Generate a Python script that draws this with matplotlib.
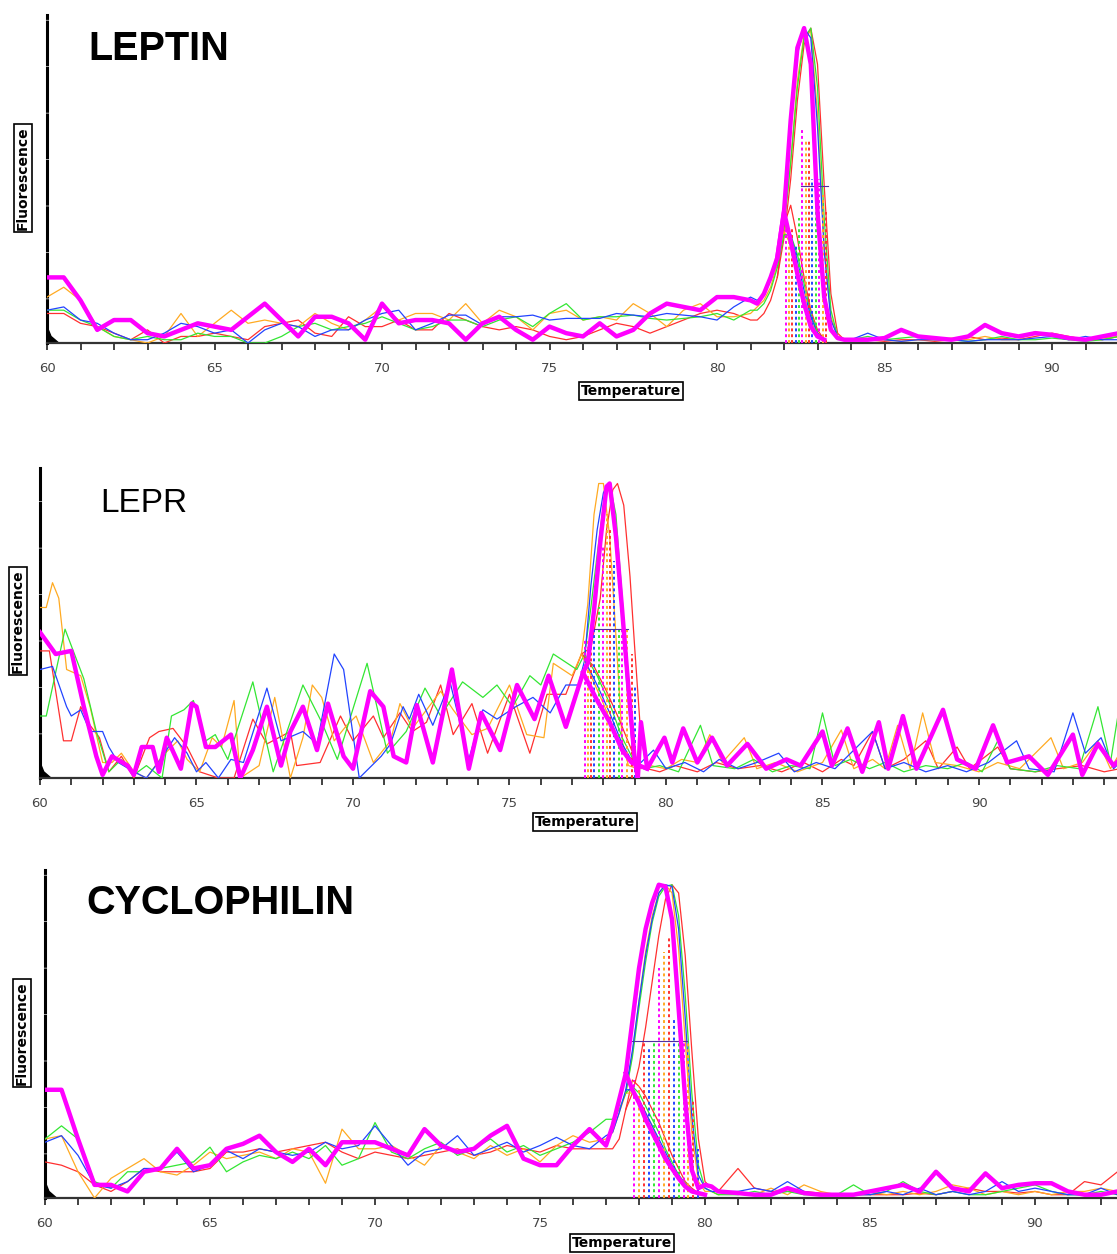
import numpy as np
import matplotlib
matplotlib.use("Agg")
import matplotlib.pyplot as plt

OUTPUT_FILE = "out.png"

RED = "#ff3030"
ORANGE = "#ffaa22"
GREEN = "#33e633"
BLUE = "#2244ff"
MAGENTA = "#ff00ff"

# ---------------- LEPTIN (shared temperature grid) ----------------
lep_temp = np.concatenate([np.arange(60.0, 81.01, 0.5),
                           np.arange(81.2, 84.01, 0.2),
                           np.arange(84.5, 92.01, 0.5)])

lep_red = [0.09, 0.09, 0.06, 0.05, 0.03, 0.01, 0.04, 0.00, 0.02, 0.02,
           0.03, 0.02, 0.01, 0.05, 0.06, 0.07, 0.03, 0.02, 0.08, 0.05,
           0.05, 0.07, 0.04, 0.04, 0.09, 0.07, 0.05, 0.04, 0.05, 0.04,
           0.02, 0.01, 0.02, 0.04, 0.06, 0.05, 0.03, 0.05, 0.07, 0.09,
           0.10, 0.09, 0.07,
           0.07, 0.09, 0.13, 0.20, 0.32, 0.50, 0.74, 0.91, 0.96, 0.85, 0.48, 0.15, 0.03, 0.01, 0.01,
           0.01, 0.005, 0.01, 0.01, 0.005, 0.01, 0.02, 0.01, 0.015, 0.01, 0.02, 0.03, 0.02, 0.01, 0.01, 0.02]
lep_orange = [0.14, 0.17, 0.13, 0.05, 0.02, 0.01, 0.00, 0.02, 0.09, 0.02,
              0.06, 0.10, 0.06, 0.07, 0.06, 0.05, 0.09, 0.06, 0.04, 0.07,
              0.11, 0.07, 0.09, 0.09, 0.07, 0.12, 0.06, 0.10, 0.08, 0.04,
              0.09, 0.10, 0.07, 0.08, 0.07, 0.12, 0.09, 0.05, 0.10, 0.12,
              0.08, 0.08, 0.09,
              0.11, 0.13, 0.17, 0.24, 0.36, 0.55, 0.80, 0.94, 0.95, 0.70, 0.30, 0.08, 0.02, 0.01, 0.01,
              0.01, 0.01, 0.005, 0.01, 0.01, 0.015, 0.01, 0.02, 0.01, 0.01, 0.035, 0.02, 0.02, 0.01, 0.015, 0.02]
lep_green = [0.10, 0.10, 0.07, 0.05, 0.02, 0.01, 0.02, 0.01, 0.01, 0.03,
             0.02, 0.02, 0.00, 0.00, 0.02, 0.05, 0.06, 0.04, 0.05, 0.06,
             0.08, 0.06, 0.04, 0.05, 0.07, 0.07, 0.05, 0.07, 0.08, 0.05,
             0.09, 0.12, 0.07, 0.08, 0.08, 0.085, 0.075, 0.07, 0.075, 0.08,
             0.09, 0.07, 0.10,
             0.10, 0.12, 0.16, 0.23, 0.35, 0.55, 0.78, 0.93, 0.96, 0.78, 0.38, 0.10, 0.02, 0.01, 0.01,
             0.02, 0.01, 0.015, 0.02, 0.01, 0.01, 0.005, 0.01, 0.02, 0.01, 0.01, 0.015, 0.01, 0.005, 0.01, 0.02]
lep_blue = [0.10, 0.11, 0.07, 0.06, 0.03, 0.01, 0.01, 0.03, 0.06, 0.05,
            0.03, 0.04, 0.00, 0.04, 0.06, 0.05, 0.02, 0.04, 0.04, 0.07,
            0.09, 0.10, 0.04, 0.06, 0.085, 0.085, 0.055, 0.08, 0.08, 0.085,
            0.07, 0.075, 0.075, 0.075, 0.09, 0.085, 0.08, 0.09, 0.085, 0.08,
            0.07, 0.11, 0.14,
            0.13, 0.15, 0.19, 0.27, 0.42, 0.66, 0.88, 0.96, 0.93, 0.66, 0.28, 0.07, 0.02, 0.01, 0.01,
            0.03, 0.01, 0.005, 0.01, 0.01, 0.01, 0.005, 0.01, 0.01, 0.01, 0.015, 0.02, 0.01, 0.02, 0.01, 0.01]
lep_magenta = [0.20, 0.20, 0.13, 0.04, 0.07, 0.07, 0.03, 0.02, 0.04, 0.06,
               0.05, 0.04, 0.08, 0.12, 0.07, 0.02, 0.08, 0.08, 0.06, 0.01,
               0.12, 0.06, 0.07, 0.07, 0.06, 0.01, 0.06, 0.08, 0.04, 0.01,
               0.05, 0.03, 0.02, 0.06, 0.02, 0.04, 0.09, 0.12, 0.11, 0.10,
               0.14, 0.14, 0.13,
               0.12, 0.15, 0.20, 0.26, 0.40, 0.68, 0.90, 0.96, 0.85, 0.40, 0.14, 0.04, 0.015, 0.01, 0.01,
               0.01, 0.015, 0.04, 0.02, 0.015, 0.01, 0.02, 0.055, 0.03, 0.02, 0.03, 0.025, 0.015, 0.01, 0.02, 0.03]

# falling "shoulder" traces
lep_sec_temp = [81.8, 82.0, 82.2, 82.4, 82.6, 82.8, 83.0, 83.2]
lep_sec_red = [0.20, 0.36, 0.42, 0.32, 0.20, 0.10, 0.04, 0.01]
lep_sec_orange = [0.24, 0.34, 0.30, 0.22, 0.14, 0.07, 0.02, 0.01]
lep_sec_green = [0.23, 0.33, 0.33, 0.27, 0.18, 0.09, 0.03, 0.01]
lep_sec_blue = [0.27, 0.37, 0.33, 0.25, 0.16, 0.08, 0.03, 0.01]
lep_sec_magenta = [0.26, 0.40, 0.31, 0.21, 0.12, 0.05, 0.02, 0.01]

lep_tm_x = [82.05, 82.15, 82.25, 82.35, 82.45, 82.55, 82.65, 82.75, 82.85, 82.95, 83.05, 83.15, 83.25]
lep_tm_top = [0.35, 0.33, 0.35, 0.30, 0.38, 0.65, 0.62, 0.62, 0.50, 0.48, 0.50, 0.45, 0.40]
lep_half = (0.48, 82.5, 83.3)

# ---------------- LEPR (vertex pairs per trace) ----------------
lepr_red = [(60.0, 0.41), (60.3, 0.41), (60.75, 0.12), (61.0, 0.12), (61.3, 0.23), (61.6, 0.17), (61.9, 0.13),
            (62.2, 0.02), (62.6, 0.07), (63.0, 0.0), (63.5, 0.13), (63.8, 0.15), (64.25, 0.16), (64.7, 0.10),
            (65.1, 0.02), (65.7, 0.0), (66.2, 0.0), (66.8, 0.19), (67.25, 0.11), (68.0, 0.15), (68.2, 0.04),
            (68.95, 0.05), (69.6, 0.20), (70.0, 0.12), (70.65, 0.20), (70.97, 0.13), (71.5, 0.21), (71.9, 0.15),
            (72.35, 0.18), (72.8, 0.30), (73.2, 0.14), (73.8, 0.24), (74.3, 0.08), (75.0, 0.27), (75.65, 0.08),
            (76.2, 0.27), (76.8, 0.27), (77.3, 0.40), (77.6, 0.42), (77.9, 0.58), (78.1, 0.80), (78.3, 0.93),
            (78.45, 0.95), (78.65, 0.88), (78.85, 0.65), (79.0, 0.42), (79.2, 0.13), (79.4, 0.03), (79.8, 0.02),
            (80.3, 0.04), (81.0, 0.02), (81.6, 0.05), (82.3, 0.03), (83.0, 0.04), (83.7, 0.02), (84.4, 0.05),
            (85.0, 0.02), (85.6, 0.06), (86.0, 0.04), (86.6, 0.15), (87.0, 0.03), (87.6, 0.06), (88.3, 0.12),
            (88.7, 0.03), (89.3, 0.10), (89.7, 0.03), (90.6, 0.10), (91.0, 0.03), (91.8, 0.02), (92.5, 0.03),
            (93.3, 0.04), (94.0, 0.02), (94.5, 0.03)]
lepr_orange = [(60.0, 0.55), (60.2, 0.55), (60.4, 0.63), (60.6, 0.58), (60.85, 0.35), (61.3, 0.33), (61.6, 0.23),
               (62.0, 0.05), (62.3, 0.05), (62.6, 0.08), (63.0, 0.02), (63.4, 0.0), (63.9, 0.07), (64.4, 0.12),
               (64.7, 0.06), (65.1, 0.02), (65.5, 0.13), (65.8, 0.10), (66.2, 0.25), (66.4, 0.0), (67.0, 0.04),
               (67.5, 0.26), (68.0, 0.0), (68.4, 0.13), (68.7, 0.30), (69.0, 0.26), (69.4, 0.12), (69.8, 0.17),
               (70.1, 0.20), (70.65, 0.05), (71.2, 0.12), (71.5, 0.24), (71.9, 0.16), (72.8, 0.28), (73.2, 0.22),
               (73.8, 0.14), (74.3, 0.16), (75.0, 0.30), (75.55, 0.14), (76.1, 0.13), (76.4, 0.37), (77.0, 0.33),
               (77.3, 0.40), (77.5, 0.56), (77.7, 0.85), (77.85, 0.95), (78.0, 0.95), (78.2, 0.78), (78.4, 0.46),
               (78.6, 0.12), (78.8, 0.04), (79.1, 0.03), (79.5, 0.04), (80.0, 0.03), (80.5, 0.06), (81.0, 0.05),
               (81.4, 0.14), (81.8, 0.05), (82.5, 0.13), (82.9, 0.03), (83.5, 0.05), (84.2, 0.02), (85.0, 0.05),
               (85.6, 0.155), (86.0, 0.03), (86.6, 0.06), (87.0, 0.03), (87.4, 0.17), (87.8, 0.03), (88.2, 0.21),
               (88.6, 0.05), (89.3, 0.04), (90.0, 0.02), (90.6, 0.05), (91.3, 0.03), (92.3, 0.13), (92.7, 0.03),
               (93.3, 0.05), (93.8, 0.12), (94.2, 0.03), (94.5, 0.08)]
lepr_green = [(60.0, 0.20), (60.2, 0.20), (60.8, 0.48), (61.4, 0.32), (61.8, 0.15), (62.2, 0.02), (62.6, 0.06),
              (63.0, 0.01), (63.4, 0.04), (63.9, 0.0), (64.2, 0.20), (64.6, 0.22), (64.9, 0.25), (65.3, 0.12),
              (65.6, 0.14), (66.0, 0.06), (66.8, 0.31), (67.45, 0.02), (68.4, 0.30), (69.0, 0.18), (69.5, 0.06),
              (70.45, 0.37), (71.1, 0.08), (71.7, 0.15), (72.3, 0.29), (72.8, 0.20), (73.5, 0.31), (74.15, 0.26),
              (74.6, 0.30), (75.1, 0.23), (75.65, 0.33), (76.0, 0.30), (76.4, 0.40), (77.15, 0.35), (77.4, 0.40),
              (77.6, 0.55), (77.8, 0.72), (78.0, 0.88), (78.2, 0.95), (78.4, 0.85), (78.6, 0.58), (78.8, 0.25),
              (79.0, 0.06), (79.3, 0.03), (79.8, 0.04), (80.4, 0.02), (81.1, 0.17), (81.5, 0.04), (82.2, 0.03),
              (82.8, 0.06), (83.4, 0.02), (84.0, 0.04), (84.6, 0.03), (85.0, 0.21), (85.4, 0.04), (85.9, 0.06),
              (86.5, 0.03), (87.0, 0.05), (87.6, 0.02), (88.3, 0.04), (89.0, 0.03), (89.6, 0.05), (90.1, 0.02),
              (90.6, 0.12), (91.0, 0.03), (91.8, 0.02), (92.5, 0.04), (93.2, 0.03), (93.8, 0.23), (94.2, 0.05),
              (94.5, 0.24)]
lepr_blue = [(60.0, 0.35), (60.4, 0.36), (60.85, 0.23), (61.0, 0.20), (61.3, 0.22), (61.6, 0.15), (62.0, 0.15),
             (62.2, 0.10), (62.5, 0.05), (63.0, 0.02), (63.4, 0.0), (63.85, 0.06), (64.3, 0.13), (64.7, 0.08),
             (65.0, 0.02), (65.3, 0.05), (65.7, 0.0), (66.1, 0.06), (66.5, 0.05), (67.25, 0.29), (67.7, 0.12),
             (68.4, 0.15), (68.85, 0.11), (69.4, 0.40), (69.7, 0.35), (70.2, 0.0), (70.9, 0.07), (71.2, 0.11),
             (71.6, 0.23), (71.8, 0.19), (72.1, 0.27), (72.55, 0.17), (73.1, 0.31), (73.7, 0.06), (74.15, 0.22),
             (74.6, 0.19), (75.2, 0.23), (75.75, 0.26), (76.3, 0.21), (76.8, 0.30), (77.2, 0.30), (77.4, 0.38),
             (77.6, 0.62), (77.8, 0.80), (78.0, 0.92), (78.15, 0.95), (78.35, 0.85), (78.55, 0.60), (78.75, 0.30),
             (78.95, 0.07), (79.2, 0.05), (79.6, 0.09), (80.0, 0.03), (80.6, 0.05), (81.2, 0.02), (81.7, 0.06),
             (82.3, 0.03), (82.9, 0.05), (83.6, 0.08), (84.1, 0.02), (84.8, 0.05), (85.4, 0.03), (86.0, 0.09),
             (86.6, 0.15), (87.0, 0.03), (87.6, 0.05), (88.3, 0.02), (89.0, 0.04), (89.6, 0.02), (90.3, 0.05),
             (91.2, 0.12), (91.6, 0.03), (92.4, 0.02), (93.0, 0.21), (93.4, 0.08), (93.9, 0.13), (94.3, 0.03),
             (94.5, 0.05)]
lepr_magenta = [(60.0, 0.47), (60.5, 0.40), (61.0, 0.41), (61.4, 0.23), (61.8, 0.07), (62.0, 0.01), (62.3, 0.07),
                (62.8, 0.04), (63.0, 0.01), (63.25, 0.10), (63.6, 0.10), (63.8, 0.02), (64.05, 0.13), (64.5, 0.03),
                (64.85, 0.24), (65.0, 0.23), (65.3, 0.10), (65.6, 0.10), (66.1, 0.14), (66.4, 0.0), (66.8, 0.09),
                (67.25, 0.23), (67.7, 0.04), (68.0, 0.15), (68.4, 0.23), (68.85, 0.09), (69.2, 0.24), (69.7, 0.07),
                (70.0, 0.03), (70.55, 0.28), (70.97, 0.23), (71.3, 0.07), (71.7, 0.05), (72.04, 0.235), (72.55, 0.05),
                (73.16, 0.35), (73.7, 0.03), (74.1, 0.21), (74.7, 0.09), (75.24, 0.30), (75.8, 0.19), (76.25, 0.33),
                (76.8, 0.165), (77.35, 0.34), (77.5, 0.37), (77.7, 0.54), (77.9, 0.76), (78.1, 0.94), (78.2, 0.95),
                (78.4, 0.78), (78.6, 0.54), (78.8, 0.29), (79.0, 0.06), (79.1, 0.0), (79.2, 0.18), (79.4, 0.03),
                (79.95, 0.13), (80.2, 0.05), (80.55, 0.16), (81.0, 0.05), (81.47, 0.13), (81.95, 0.04), (82.6, 0.11),
                (83.2, 0.03), (83.85, 0.06), (84.3, 0.04), (85.0, 0.15), (85.3, 0.04), (85.8, 0.16), (86.27, 0.02),
                (86.8, 0.18), (87.1, 0.03), (87.57, 0.20), (88.0, 0.03), (88.85, 0.22), (89.3, 0.06), (89.9, 0.03),
                (90.45, 0.17), (90.9, 0.05), (91.6, 0.07), (92.2, 0.01), (93.0, 0.14), (93.3, 0.01), (93.8, 0.11),
                (94.3, 0.04), (94.5, 0.06)]

lepr_sec_red = [(77.3, 0.40), (77.7, 0.36), (78.1, 0.28), (78.5, 0.19), (78.9, 0.09), (79.2, 0.04)]
lepr_sec_orange = [(77.3, 0.40), (77.6, 0.33), (78.0, 0.24), (78.4, 0.14), (78.8, 0.06), (79.2, 0.03)]
lepr_sec_green = [(77.4, 0.40), (77.8, 0.33), (78.2, 0.24), (78.6, 0.13), (79.0, 0.05), (79.3, 0.03)]
lepr_sec_blue = [(77.4, 0.38), (77.8, 0.30), (78.2, 0.21), (78.6, 0.11), (79.0, 0.04), (79.3, 0.03)]
lepr_sec_magenta = [(77.35, 0.34), (77.8, 0.25), (78.2, 0.18), (78.6, 0.09), (78.9, 0.05), (79.4, 0.03)]

lepr_tm_x = [77.4, 77.5, 77.6, 77.7, 77.85, 78.0, 78.1, 78.2, 78.35, 78.5, 78.6, 78.75, 78.9, 79.0]
lepr_tm_top = [0.45, 0.45, 0.48, 0.48, 0.55, 0.75, 0.85, 0.80, 0.70, 0.48, 0.48, 0.48, 0.40, 0.30]
lepr_half = (0.48, 77.6, 78.8)

# ---------------- CYCLOPHILIN (shared temperature grid) ----------------
cyc_temp = np.concatenate([np.arange(60.0, 77.01, 0.5),
                           np.arange(77.2, 80.41, 0.2),
                           np.arange(81.0, 92.51, 0.5)])

cyc_red = [0.11, 0.10, 0.08, 0.04, 0.02, 0.05, 0.09, 0.08, 0.08, 0.08,
           0.09, 0.14, 0.14, 0.15, 0.14, 0.15, 0.16, 0.17, 0.14, 0.12,
           0.14, 0.13, 0.12, 0.13, 0.14, 0.15, 0.13, 0.14, 0.16, 0.15,
           0.14, 0.16, 0.15, 0.15, 0.15,
           0.15, 0.18, 0.27, 0.32, 0.40, 0.52, 0.66, 0.80, 0.91, 0.955, 0.93, 0.74, 0.45, 0.18, 0.05, 0.03, 0.02,
           0.09, 0.03, 0.02, 0.02, 0.02, 0.015, 0.01, 0.01, 0.01, 0.01, 0.01, 0.015, 0.01, 0.02, 0.03, 0.02,
           0.02, 0.015, 0.02, 0.01, 0.01, 0.05, 0.04, 0.08]
cyc_orange = [0.18, 0.19, 0.08, 0.00, 0.06, 0.09, 0.12, 0.08, 0.07, 0.10,
              0.14, 0.12, 0.13, 0.14, 0.12, 0.15, 0.14, 0.045, 0.21, 0.15,
              0.15, 0.16, 0.13, 0.10, 0.16, 0.14, 0.12, 0.16, 0.13, 0.15,
              0.11, 0.16, 0.19, 0.17, 0.18,
              0.20, 0.26, 0.32, 0.44, 0.60, 0.75, 0.86, 0.93, 0.955, 0.93, 0.76, 0.48, 0.20, 0.05, 0.02, 0.02, 0.01,
              0.02, 0.01, 0.03, 0.01, 0.04, 0.02, 0.01, 0.01, 0.02, 0.01, 0.02, 0.01, 0.02, 0.04, 0.03, 0.01,
              0.02, 0.01, 0.02, 0.01, 0.02, 0.02, 0.03, 0.02]
cyc_green = [0.18, 0.22, 0.18, 0.05, 0.03, 0.08, 0.08, 0.09, 0.10, 0.11,
             0.155, 0.08, 0.11, 0.13, 0.12, 0.14, 0.12, 0.16, 0.10, 0.12,
             0.23, 0.14, 0.12, 0.15, 0.17, 0.13, 0.15, 0.18, 0.14, 0.16,
             0.13, 0.15, 0.17, 0.20, 0.24,
             0.24, 0.27, 0.32, 0.43, 0.58, 0.72, 0.84, 0.92, 0.95, 0.955, 0.86, 0.62, 0.32, 0.10, 0.03, 0.02, 0.01,
             0.01, 0.02, 0.01, 0.02, 0.01, 0.01, 0.01, 0.04, 0.01, 0.02, 0.05, 0.02, 0.01, 0.02, 0.01, 0.01,
             0.02, 0.03, 0.04, 0.02, 0.01, 0.01, 0.02, 0.01]
cyc_blue = [0.17, 0.19, 0.13, 0.04, 0.03, 0.05, 0.09, 0.09, 0.14, 0.08,
            0.10, 0.145, 0.12, 0.15, 0.14, 0.13, 0.14, 0.17, 0.15, 0.16,
            0.22, 0.16, 0.10, 0.14, 0.15, 0.19, 0.13, 0.15, 0.17, 0.14,
            0.16, 0.185, 0.16, 0.15, 0.19,
            0.20, 0.26, 0.33, 0.45, 0.60, 0.74, 0.85, 0.93, 0.955, 0.95, 0.82, 0.55, 0.25, 0.07, 0.03, 0.02, 0.02,
            0.02, 0.03, 0.02, 0.05, 0.02, 0.01, 0.01, 0.01, 0.01, 0.02, 0.01, 0.03, 0.01, 0.02, 0.01, 0.02,
            0.05, 0.02, 0.03, 0.02, 0.01, 0.01, 0.03, 0.01]
cyc_magenta = [0.33, 0.33, 0.18, 0.04, 0.04, 0.02, 0.08, 0.09, 0.15, 0.09,
               0.10, 0.15, 0.165, 0.19, 0.14, 0.11, 0.15, 0.10, 0.17, 0.17,
               0.17, 0.15, 0.13, 0.21, 0.16, 0.14, 0.15, 0.19, 0.22, 0.12,
               0.10, 0.10, 0.16, 0.21, 0.16,
               0.22, 0.30, 0.38, 0.54, 0.70, 0.82, 0.90, 0.955, 0.95, 0.85, 0.58, 0.30, 0.085, 0.03, 0.04, 0.035, 0.02,
               0.015, 0.01, 0.01, 0.03, 0.015, 0.01, 0.01, 0.01, 0.02, 0.03, 0.04, 0.02, 0.08, 0.03, 0.02, 0.075,
               0.03, 0.04, 0.045, 0.045, 0.02, 0.01, 0.01, 0.02]

cyc_sec_temp = [77.6, 77.8, 78.0, 78.2, 78.4, 78.6, 78.8, 79.0, 79.2, 79.4, 79.6, 79.8, 80.0]
cyc_sec_red = [0.27, 0.36, 0.34, 0.31, 0.27, 0.23, 0.18, 0.13, 0.09, 0.05, 0.03, 0.015, 0.01]
cyc_sec_orange = [0.32, 0.32, 0.30, 0.26, 0.22, 0.17, 0.13, 0.09, 0.06, 0.035, 0.02, 0.01, 0.01]
cyc_sec_green = [0.32, 0.34, 0.32, 0.28, 0.24, 0.20, 0.15, 0.11, 0.07, 0.045, 0.025, 0.015, 0.01]
cyc_sec_blue = [0.33, 0.33, 0.30, 0.26, 0.22, 0.18, 0.14, 0.10, 0.07, 0.04, 0.02, 0.015, 0.01]
cyc_sec_magenta = [0.38, 0.33, 0.29, 0.24, 0.20, 0.16, 0.12, 0.09, 0.06, 0.035, 0.02, 0.015, 0.01]

cyc_tm_x = [77.85, 78.0, 78.15, 78.3, 78.45, 78.6, 78.75, 78.9, 79.05, 79.2, 79.35, 79.5, 79.65, 79.8]
cyc_tm_top = [0.36, 0.34, 0.48, 0.46, 0.48, 0.70, 0.75, 0.80, 0.55, 0.48, 0.48, 0.48, 0.30, 0.15]
cyc_half = (0.48, 77.8, 79.45)

# small black trace at the start of each plot
blk_x = [60.0, 60.0, 60.12, 60.35]
blk_y = [0.0, 0.05, 0.02, 0.0]

TM_COLORS = [MAGENTA, ORANGE, RED, BLUE, GREEN]


def style_axes(ax, xmax):
    ax.set_xlim(60, xmax)
    ax.set_ylim(0, 1)
    for s in ("top", "right"):
        ax.spines[s].set_visible(False)
    ax.spines["left"].set_color("black")
    ax.spines["left"].set_linewidth(2.2)
    ax.spines["left"].set_linestyle((0, (14, 1.2)))
    ax.spines["bottom"].set_color("#333333")
    ax.spines["bottom"].set_linewidth(1.6)
    ax.set_yticks([])
    ax.set_xticks(np.arange(60, xmax, 5))
    ax.set_xticks(np.arange(60, xmax, 1), minor=True)
    ax.tick_params(axis="x", which="both", direction="out", length=5, width=1.3,
                   color="#333333", pad=9, labelsize=9.5, labelcolor="#444444")
    ax.set_facecolor("white")


def draw_panel(ax, traces, secs, tm_x, tm_top, half, xmax):
    style_axes(ax, xmax)
    ax.fill(blk_x, blk_y, color="black", zorder=2)
    # thin coloured traces
    for (x, y), c in traces[:-1]:
        ax.plot(x, y, color=c, lw=0.9, zorder=3)
    for (x, y), c in secs[:-1]:
        ax.plot(x, y, color=c, lw=0.9, zorder=3)
    # Tm markers
    for i, (tx, top) in enumerate(zip(tm_x, tm_top)):
        ax.plot([tx, tx], [0, top], color=TM_COLORS[i % len(TM_COLORS)],
                lw=1.4, ls=(0, (1.5, 1.5)), zorder=4)
    ax.plot([half[1], half[2]], [half[0], half[0]], color="#5030a0", lw=0.8, zorder=4)
    # thick magenta trace on top
    (x, y), c = traces[-1]
    ax.plot(x, y, color=c, lw=3.2, zorder=5, solid_joinstyle="round")
    (x, y), c = secs[-1]
    ax.plot(x, y, color=c, lw=3.2, zorder=5, solid_joinstyle="round")


def unzip(pairs):
    xs, ys = zip(*pairs)
    return list(xs), list(ys)


fig = plt.figure(figsize=(11.17, 12.54), dpi=100)
W, H = 1117.0, 1254.0

# panel 1 - LEPTIN
ax1 = fig.add_axes([47 / W, 1 - 343 / H, 1070 / W, 328 / H])
draw_panel(ax1,
           [((lep_temp, lep_red), RED), ((lep_temp, lep_orange), ORANGE),
            ((lep_temp, lep_green), GREEN), ((lep_temp, lep_blue), BLUE),
            ((lep_temp, lep_magenta), MAGENTA)],
           [((lep_sec_temp, lep_sec_red), RED), ((lep_sec_temp, lep_sec_orange), ORANGE),
            ((lep_sec_temp, lep_sec_green), GREEN), ((lep_sec_temp, lep_sec_blue), BLUE),
            ((lep_sec_temp, lep_sec_magenta), MAGENTA)],
           lep_tm_x, lep_tm_top, lep_half, 60 + 1070 / 33.5)

# panel 2 - LEPR
ax2 = fig.add_axes([40 / W, 1 - 778 / H, 1077 / W, 310 / H])
draw_panel(ax2,
           [(unzip(lepr_red), RED), (unzip(lepr_orange), ORANGE),
            (unzip(lepr_green), GREEN), (unzip(lepr_blue), BLUE),
            (unzip(lepr_magenta), MAGENTA)],
           [(unzip(lepr_sec_red), RED), (unzip(lepr_sec_orange), ORANGE),
            (unzip(lepr_sec_green), GREEN), (unzip(lepr_sec_blue), BLUE),
            (unzip(lepr_sec_magenta), MAGENTA)],
           lepr_tm_x, lepr_tm_top, lepr_half, 60 + 1077 / 31.3)

# panel 3 - CYCLOPHILIN
ax3 = fig.add_axes([45 / W, 1 - 1198 / H, 1072 / W, 328 / H])
draw_panel(ax3,
           [((cyc_temp, cyc_red), RED), ((cyc_temp, cyc_orange), ORANGE),
            ((cyc_temp, cyc_green), GREEN), ((cyc_temp, cyc_blue), BLUE),
            ((cyc_temp, cyc_magenta), MAGENTA)],
           [((cyc_sec_temp, cyc_sec_red), RED), ((cyc_sec_temp, cyc_sec_orange), ORANGE),
            ((cyc_sec_temp, cyc_sec_green), GREEN), ((cyc_sec_temp, cyc_sec_blue), BLUE),
            ((cyc_sec_temp, cyc_sec_magenta), MAGENTA)],
           cyc_tm_x, cyc_tm_top, cyc_half, 60 + 1072 / 33.0)

# gene names
fig.text(88 / W, 1 - 49 / H, "LEPTIN", fontsize=28.5, fontweight="bold",
         family="Liberation Sans", ha="left", va="center")
fig.text(100 / W, 1 - 504 / H, "LEPR", fontsize=24, family="Liberation Sans",
         ha="left", va="center")
fig.text(86 / W, 1 - 903 / H, "CYCLOPHILIN", fontsize=28.5, fontweight="bold",
         family="Liberation Sans", ha="left", va="center")

box = dict(boxstyle="square,pad=0.15", facecolor="white", edgecolor="black", linewidth=1.2)
for fx, fy in [(23, 178), (18, 621), (22, 1033)]:
    fig.text(fx / W, 1 - fy / H, "Fluorescence", rotation=90, fontsize=10, fontweight="bold",
             ha="center", va="center", bbox=box)
for tx, ty in [(631, 391), (585, 822), (622, 1243)]:
    fig.text(tx / W, 1 - ty / H, "Temperature", fontsize=10, fontweight="bold",
             ha="center", va="center", bbox=box)

fig.savefig(OUTPUT_FILE, dpi=100)
